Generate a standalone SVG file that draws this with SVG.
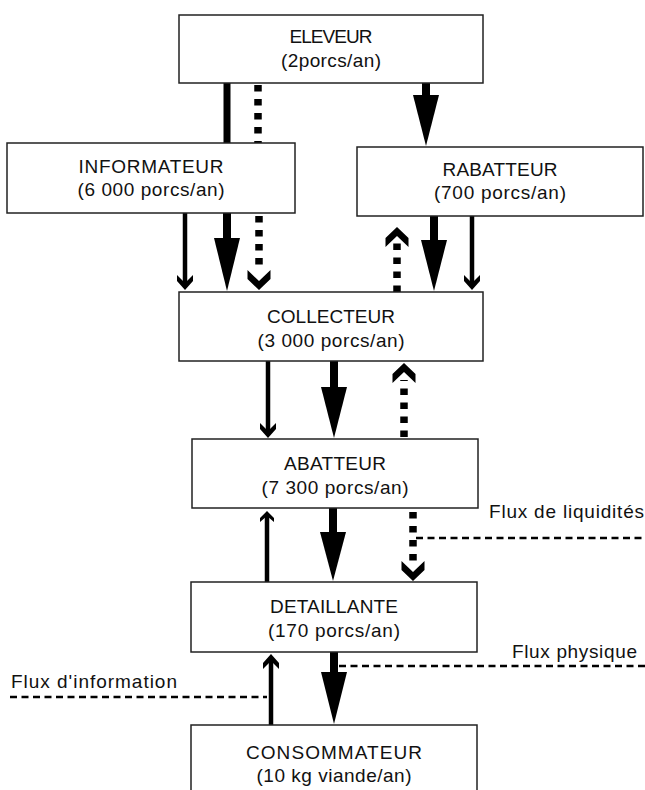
<svg xmlns="http://www.w3.org/2000/svg" width="645" height="790" viewBox="0 0 645 790">
<style>
.box{fill:#fff;stroke:#222;stroke-width:1.5}
.t{font-family:"Liberation Sans",Arial,sans-serif;font-size:19px;fill:#111;text-anchor:middle}
.lbl{font-family:"Liberation Sans",Arial,sans-serif;font-size:19px;fill:#111}
.thick{stroke:#000;stroke-width:8;fill:none}
.thin{stroke:#000;stroke-width:4.5;fill:none}
.dot{stroke:#000;stroke-width:7.5;stroke-dasharray:6.5 7.5;fill:none}
.leg{stroke:#000;stroke-width:2.5;stroke-dasharray:7 4.5;fill:none}
.hd{fill:#000}
</style>
<rect width="645" height="790" fill="#fff"/>
<g id="connectors">
  <line class="thick" x1="227" y1="83" x2="227" y2="143" style="stroke-width:7"/>
  <line class="dot" x1="258" y1="85" x2="258" y2="143"/>
  <line class="thick" x1="426" y1="83" x2="426" y2="96"/>
  <polygon class="hd" points="413,95 439,95 426,146"/>
  <line class="thin" x1="185" y1="213" x2="185" y2="284"/>
  <polygon class="hd" points="185,290 177,281 177,275 185,283 193,275 193,281"/>
  <line class="thick" x1="227" y1="213" x2="227" y2="240"/>
  <polygon class="hd" points="214,238 240,238 227,291"/>
  <line class="dot" x1="259" y1="216" x2="259" y2="270"/>
  <polygon class="hd" points="259,290 247.5,279 247.5,270 259,281 270.5,270 270.5,279"/>
  <polygon class="hd" points="397,227 408.5,238 408.5,247 397,236 385.5,247 385.5,238"/>
  <line class="dot" x1="397" y1="292" x2="397" y2="243"/>
  <line class="thick" x1="434" y1="216" x2="434" y2="242"/>
  <polygon class="hd" points="421,240 447,240 434,291"/>
  <line class="thin" x1="472" y1="216" x2="472" y2="284"/>
  <polygon class="hd" points="472,290 464,281 464,275 472,283 480,275 480,281"/>
  <line class="thin" x1="268" y1="361" x2="268" y2="432"/>
  <polygon class="hd" points="268,438 260,429 260,423 268,431 276,423 276,429"/>
  <line class="thick" x1="334" y1="361" x2="334" y2="389"/>
  <polygon class="hd" points="321,387 347,387 334,438"/>
  <polygon class="hd" points="404,363 415.5,374 415.5,383 404,372 392.5,383 392.5,374"/>
  <line class="dot" x1="404" y1="437" x2="404" y2="380"/>
  <line class="thin" x1="267" y1="582" x2="267" y2="516"/>
  <polygon class="hd" points="267,511 260,518 260,522 267,516 274,522 274,518"/>
  <line class="thick" x1="333" y1="508" x2="333" y2="534"/>
  <polygon class="hd" points="320,532 346,532 333,581"/>
  <line class="dot" x1="413" y1="512" x2="413" y2="564"/>
  <polygon class="hd" points="413,581 401.5,570 401.5,561 413,572 424.5,561 424.5,570"/>
  <line class="thin" x1="271" y1="725" x2="271" y2="660"/>
  <polygon class="hd" points="271,654 263,663 263,669 271,661 279,669 279,663"/>
  <line class="thick" x1="334" y1="652" x2="334" y2="674"/>
  <polygon class="hd" points="321,672 347,672 334,724"/>
  <line class="leg" x1="416" y1="538" x2="645" y2="538"/>
  <line class="leg" x1="339" y1="666" x2="645" y2="666"/>
  <line class="leg" x1="10" y1="697" x2="267" y2="697"/>
</g>
<g id="eleveur">
  <rect class="box" x="179" y="15" width="304" height="68"/>
  <text class="t" x="331" y="43" textLength="83">ELEVEUR</text>
  <text class="t" x="331" y="67" textLength="100">(2porcs/an)</text>
</g>
<g id="informateur">
  <rect class="box" x="7" y="143" width="288" height="70"/>
  <text class="t" x="151" y="173" textLength="145">INFORMATEUR</text>
  <text class="t" x="151" y="196" textLength="147">(6 000 porcs/an)</text>
</g>
<g id="rabatteur">
  <rect class="box" x="357" y="147" width="286" height="69"/>
  <text class="t" x="500" y="176" textLength="115">RABATTEUR</text>
  <text class="t" x="500" y="199" textLength="132">(700 porcs/an)</text>
</g>
<g id="collecteur">
  <rect class="box" x="179" y="292" width="304" height="69"/>
  <text class="t" x="331" y="323" textLength="128">COLLECTEUR</text>
  <text class="t" x="331" y="347" textLength="147">(3 000 porcs/an)</text>
</g>
<g id="abatteur">
  <rect class="box" x="192" y="439" width="286" height="69"/>
  <text class="t" x="335" y="470" textLength="102">ABATTEUR</text>
  <text class="t" x="335" y="494" textLength="147">(7 300 porcs/an)</text>
</g>
<g id="detaillante">
  <rect class="box" x="191" y="582" width="286" height="70"/>
  <text class="t" x="334" y="613" textLength="128">DETAILLANTE</text>
  <text class="t" x="334" y="637" textLength="132">(170 porcs/an)</text>
</g>
<g id="consommateur">
  <rect class="box" x="191" y="725" width="286" height="80"/>
  <text class="t" x="334" y="759" textLength="176">CONSOMMATEUR</text>
  <text class="t" x="334" y="782" textLength="155">(10 kg viande/an)</text>
</g>
<g id="legend">
  <text class="lbl" x="489" y="518" textLength="155">Flux de liquidités</text>
  <text class="lbl" x="512" y="658" textLength="125">Flux physique</text>
  <text class="lbl" x="11" y="688" textLength="166">Flux d'information</text>
</g>
</svg>
